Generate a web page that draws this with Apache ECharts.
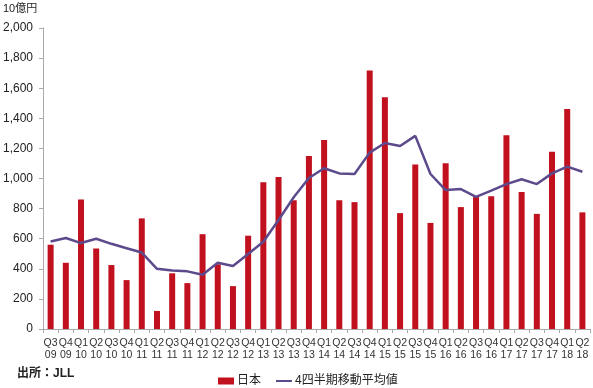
<!DOCTYPE html>
<html><head><meta charset="utf-8">
<script src="https://cdn.jsdelivr.net/npm/echarts@6/dist/echarts.min.js"></script>
<style>html,body{margin:0;padding:0;background:#fff}#c{width:593px;height:388px}</style>
</head><body><div id="c"></div>
<script>
const categories = ["Q3\n09","Q4\n09","Q1\n10","Q2\n10","Q3\n10","Q4\n10","Q1\n11","Q2\n11","Q3\n11","Q4\n11","Q1\n12","Q2\n12","Q3\n12","Q4\n12","Q1\n13","Q2\n13","Q3\n13","Q4\n13","Q1\n14","Q2\n14","Q3\n14","Q4\n14","Q1\n15","Q2\n15","Q3\n15","Q4\n15","Q1\n16","Q2\n16","Q3\n16","Q4\n16","Q1\n17","Q2\n17","Q3\n17","Q4\n17","Q1\n18","Q2\n18"];
const japan = [560,440,860,535,425,325,735,120,370,305,630,430,285,620,975,1010,855,1150,1255,855,843,1718,1540,770,1093,705,1102,810,878,882,1288,910,765,1178,1462,775];
const movingAvg = [582,605,571,600,566,537,508,400,388,383,360,440,419,498,580,724,875,1003,1068,1034,1030,1172,1236,1216,1283,1030,923,930,878,919,963,995,963,1034,1079,1045];
const yTicks = {min:0, max:2000, interval:200};

const chart = echarts.init(document.getElementById('c'));
const FONT = '"Liberation Sans", Arial, "Noto Sans CJK JP", sans-serif';
chart.setOption({
  animation:false,
  textStyle:{fontFamily:FONT},
  grid:{left:39, right:3, top:28, bottom:59},
  graphic:[
    {type:'text', left:3, top:3, style:{text:'10億円', font:'11px '+FONT, fill:'#222'}},
    {type:'text', left:17, top:368, style:{text:'出所：JLL', font:'bold 12px '+FONT, fill:'#222'}}
  ],
  legend:{
    left:213, top:370, itemWidth:16, itemHeight:7, itemGap:14,
    textStyle:{fontSize:12, color:'#222', fontFamily:FONT, padding:[0,0,0,-2]},
    data:[{name:'日本', icon:'rect'},{name:'4四半期移動平均値', itemStyle:{opacity:0}}]
  },
  xAxis:{
    type:'category', data:categories,
    axisLine:{lineStyle:{color:'#aaa'}},
    axisTick:{show:true, length:4, lineStyle:{color:'#aaa'}},
    axisLabel:{interval:0, color:'#333', fontSize:10.5, lineHeight:12, margin:8, fontFamily:FONT}
  },
  yAxis:{
    type:'value', min:yTicks.min, max:yTicks.max, interval:yTicks.interval,
    axisLine:{show:true, lineStyle:{color:'#aaa'}},
    axisTick:{show:true, length:4, lineStyle:{color:'#aaa'}},
    splitLine:{show:false},
    axisLabel:{color:'#222', fontSize:12, margin:10, fontFamily:FONT,
      formatter:v=>v.toLocaleString('en-US')}
  },
  series:[
    {name:'日本', type:'bar', data:japan, barWidth:6, itemStyle:{color:'#C2111E'}},
    {name:'4四半期移動平均値', type:'line', data:movingAvg, symbol:'none',
     lineStyle:{color:'#5D4A8C', width:2.5}, itemStyle:{color:'#5D4A8C'}}
  ]
});
</script></body></html>
